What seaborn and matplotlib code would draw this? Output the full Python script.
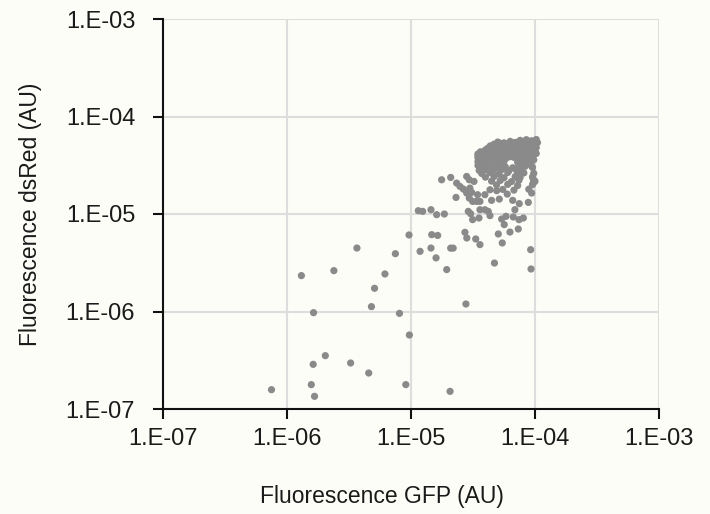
import numpy as np
import pandas as pd
import matplotlib
matplotlib.use("Agg")
import matplotlib.pyplot as plt
import seaborn as sns

# log10 values
gfp_log_sparse = [-6.125, -5.804, -5.778, -5.789, -5.786, -5.884, -5.691, -5.622, -5.487, -5.436,
                  -5.341, -5.319, -5.294, -5.210, -5.126, -5.093, -5.042, -5.013, -5.016, -4.685,
                  -4.557, -4.327, -4.032, -4.035]
red_log_sparse = [-6.802, -6.750, -6.870, -6.542, -6.012, -5.632, -6.453, -5.581, -6.528, -5.349,
                  -6.631, -5.950, -5.762, -5.615, -5.407, -6.019, -6.750, -6.241, -5.215, -6.819,
                  -5.923, -5.503, -5.564, -5.366]

gfp_log_mid = [-4.927, -4.839, -4.798, -4.833, -4.785, -4.712, -4.680, -4.660, -4.565, -4.550,
               -4.478, -4.444, -4.296, -4.264, -4.202, -4.135, -4.248,
               -4.941, -4.906, -4.839, -4.793, -4.731, -4.538, -4.519, -4.444, -4.404, -4.377,
               -4.363, -4.503, -4.452, -4.269, -4.234, -4.175, -4.129, -4.094, -4.162]
red_log_mid = [-5.383, -5.349, -5.450, -5.212, -5.220, -5.570, -5.350, -5.350, -5.188, -5.246,
               -5.256, -5.314, -5.205, -5.297, -5.185, -5.154, -5.109,
               -4.966, -4.973, -4.956, -5.007, -5.000, -4.973, -4.997, -4.956, -4.956, -4.973,
               -5.017, -5.058, -5.041, -5.052, -5.024, -5.031, -5.058, -5.041, -4.956]

gfp_log_upper = [-4.551, -4.530, -4.492, -4.525, -4.551, -4.511, -4.463, -4.637, -4.530, -4.503,
                 -4.471, -4.444, -4.404, -4.363, -4.309, -4.350, -4.288, -4.224, -4.180, -4.127,
                 -4.054, -4.027, -4.014, -4.014, -4.753, -4.680, -4.632, -4.605, -4.578]
red_log_upper = [-4.615, -4.649, -4.666, -4.734, -4.785, -4.778, -4.802, -4.830, -4.837, -4.871,
                 -4.871, -4.871, -4.802, -4.751, -4.761, -4.860, -4.847, -4.796, -4.860, -4.894,
                 -4.881, -4.785, -4.683, -4.642, -4.649, -4.625, -4.683, -4.717, -4.744]

gfp_log_cluster = [
    -4.12, -4.07, -4.03, -3.99,
    -4.30, -4.25, -4.20, -4.16, -4.13, -4.09, -4.06, -4.02, -3.98,
    -4.33, -4.28, -4.22, -4.18, -4.14, -4.10, -4.05, -4.01,
    -4.36, -4.31, -4.26, -4.23, -4.19, -4.15, -4.11, -4.08, -4.04, -4.00,
    -4.38, -4.34, -4.29, -4.24, -4.17, -4.12, -4.07, -4.03, -3.99,
    -4.40, -4.33, -4.27, -4.21, -4.16, -4.10, -4.06, -4.02,
    -4.44, -4.38, -4.30, -4.25, -4.19, -4.13, -4.08, -4.04, -4.00,
    -4.46, -4.41, -4.35, -4.28, -4.22, -4.11, -4.05, -3.99,
    -4.46, -4.42, -4.37, -4.31, -4.26, -4.20, -4.15, -4.10, -4.06, -4.02,
    -4.46, -4.40, -4.34, -4.29, -4.23, -4.17, -4.08, -4.03,
    -4.45, -4.39, -4.33, -4.27, -4.12, -4.06, -4.01,
    -4.46, -4.42, -4.36, -4.30, -4.25, -4.14, -4.09, -4.04,
    -4.45, -4.40, -4.35, -4.29, -4.11, -4.06,
    -4.46, -4.41, -4.33, -4.27, -4.13, -4.08, -4.03,
    -4.44, -4.38, -4.30, -4.24, -4.18, -4.12, -4.02,
    -4.45, -4.39, -4.34, -4.27, -4.21, -4.15, -4.11,
    -4.43, -4.36, -4.29, -4.22, -4.14, -4.09, -4.01,
    -4.40, -4.33, -4.25, -4.16, -4.12, -4.02,
    -4.35, -4.28, -4.19, -4.13, -4.00,
    -4.31, -4.22, -4.14, -4.02,
    -4.26, -4.17, -4.05]
red_log_cluster = [
    -4.245, -4.238, -4.250, -4.236,
    -4.262, -4.270, -4.255, -4.266, -4.258, -4.272, -4.261, -4.254, -4.268,
    -4.284, -4.276, -4.290, -4.279, -4.286, -4.274, -4.283, -4.291,
    -4.301, -4.309, -4.296, -4.305, -4.312, -4.298, -4.304, -4.294, -4.308, -4.300,
    -4.325, -4.318, -4.328, -4.314, -4.322, -4.330, -4.316, -4.324, -4.319,
    -4.343, -4.336, -4.349, -4.338, -4.346, -4.335, -4.344, -4.339,
    -4.362, -4.368, -4.357, -4.365, -4.359, -4.370, -4.356, -4.364, -4.361,
    -4.384, -4.377, -4.389, -4.380, -4.386, -4.375, -4.383, -4.379,
    -4.402, -4.409, -4.396, -4.405, -4.398, -4.411, -4.403, -4.395, -4.407, -4.400,
    -4.423, -4.417, -4.428, -4.415, -4.426, -4.419, -4.424, -4.416,
    -4.443, -4.437, -4.448, -4.435, -4.446, -4.439, -4.444,
    -4.462, -4.468, -4.457, -4.465, -4.459, -4.470, -4.456, -4.463,
    -4.484, -4.477, -4.489, -4.480, -4.486, -4.475,
    -4.502, -4.509, -4.496, -4.505, -4.498, -4.511, -4.503,
    -4.524, -4.517, -4.528, -4.515, -4.526, -4.519, -4.523,
    -4.553, -4.546, -4.558, -4.545, -4.556, -4.549, -4.554,
    -4.584, -4.577, -4.589, -4.575, -4.586, -4.579, -4.583,
    -4.622, -4.615, -4.628, -4.617, -4.625, -4.619,
    -4.663, -4.656, -4.668, -4.655, -4.664,
    -4.702, -4.696, -4.708, -4.699,
    -4.748, -4.755, -4.746]

tick_values = [1e-7, 1e-6, 1e-5, 1e-4, 1e-3]
tick_labels = ["1.E-07", "1.E-06", "1.E-05", "1.E-04", "1.E-03"]
x_label = "Fluorescence GFP (AU)"
y_label = "Fluorescence dsRed (AU)"

gfp = 10.0 ** np.array(gfp_log_sparse + gfp_log_mid + gfp_log_upper + gfp_log_cluster)
red = 10.0 ** np.array(red_log_sparse + red_log_mid + red_log_upper + red_log_cluster)
df = pd.DataFrame({"GFP": gfp, "dsRed": red})

sns.set_theme(style="white")
plt.rcParams["font.family"] = ["Liberation Sans", "DejaVu Sans"]

bg = "#fdfdf8"
txt = "#1a1a1a"
fig = plt.figure(figsize=(7.1, 5.14), dpi=100, facecolor=bg)
ax = fig.add_axes([163 / 710, 1 - 409 / 514, (659 - 163) / 710, (409 - 19) / 514])
ax.set_facecolor(bg)

ax.set_xscale("log")
ax.set_yscale("log")
ax.set_xlim(1e-7, 1e-3)
ax.set_ylim(1e-7, 1e-3)

ax.grid(True, which="major", color="#dddddd", linewidth=1.5, zorder=0)

sns.scatterplot(data=df, x="GFP", y="dsRed", ax=ax, color="#8a8a8a",
                edgecolor="none", s=27, zorder=3, legend=False)

ax.set_xticks(tick_values)
ax.set_xticklabels(tick_labels)
ax.set_yticks(tick_values)
ax.set_yticklabels(tick_labels)
ax.minorticks_off()

for s in ["top", "right"]:
    ax.spines[s].set_visible(False)
for s in ["left", "bottom"]:
    ax.spines[s].set_color("#111111")
    ax.spines[s].set_linewidth(1.5)

ax.tick_params(axis="both", which="major", direction="out", length=7, width=1.5,
               color="#111111", labelsize=17, labelcolor=txt,
               bottom=True, left=True)
ax.tick_params(axis="y", pad=13)
ax.tick_params(axis="x", pad=7)

ax.set_xlabel(x_label, fontsize=16.5, color=txt)
ax.set_ylabel(y_label, fontsize=16.5, color=txt, labelpad=17)
ax.xaxis.set_label_coords(0.442, -0.196)

fig.savefig("out.png", dpi=100, facecolor=bg)
